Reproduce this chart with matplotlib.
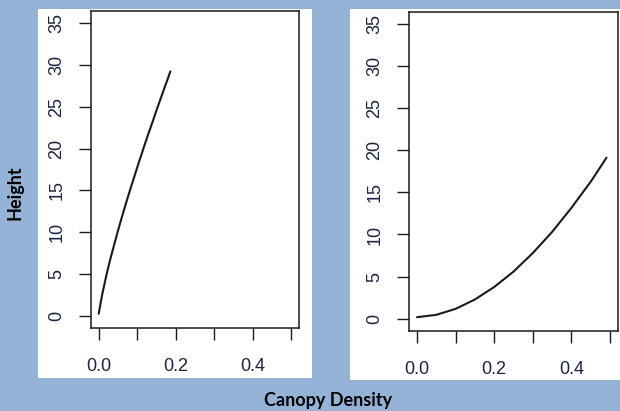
import matplotlib
matplotlib.use("Agg")
import matplotlib.pyplot as plt
from matplotlib.patches import Rectangle

plt.rcParams["font.family"] = ["Liberation Sans", "DejaVu Sans"]

# ---- data ----
left_x = [0.0, 0.005, 0.01, 0.02, 0.03, 0.04, 0.05, 0.06, 0.07, 0.08, 0.09,
          0.10, 0.11, 0.12, 0.13, 0.14, 0.15, 0.16, 0.17, 0.18, 0.186]
left_y = [0.3, 1.6, 2.8, 4.9, 6.8, 8.5, 10.2, 11.8, 13.35, 14.85, 16.3,
          17.75, 19.15, 20.55, 21.9, 23.2, 24.55, 25.85, 27.15, 28.4, 29.2]

right_x = [0.0, 0.05, 0.10, 0.15, 0.20, 0.25, 0.30, 0.35, 0.40, 0.45, 0.491]
right_y = [0.2, 0.48, 1.19, 2.3, 3.78, 5.6, 7.8, 10.3, 13.15, 16.25, 19.1]

x_ticks = [0.0, 0.1, 0.2, 0.3, 0.4, 0.5]
x_labels = ["0.0", "", "0.2", "", "0.4", ""]
y_ticks = [0, 5, 10, 15, 20, 25, 30, 35]

BG = "#95b3d7"
INK = "#1a1a1a"
LAB = "#1c2440"

fig = plt.figure(figsize=(6.2, 4.11), dpi=100)
fig.patch.set_facecolor(BG)

# white panels behind each R plot
W, H = 620.0, 411.0
for (x0, y0, x1, y1) in [(38, 9, 312, 378), (350, 9, 620, 380)]:
    fig.patches.append(Rectangle((x0 / W, 1 - y1 / H), (x1 - x0) / W, (y1 - y0) / H,
                                 transform=fig.transFigure, facecolor="white",
                                 edgecolor="none", zorder=-5))

axL = fig.add_axes([91 / W, 1 - 328 / H, 208 / W, 317 / H])
axR = fig.add_axes([409.3 / W, 1 - 330.7 / H, 208.4 / W, 319 / H])

for ax, xs, ys in [(axL, left_x, left_y), (axR, right_x, right_y)]:
    ax.set_zorder(2)
    ax.set_facecolor("white")
    ax.plot(xs, ys, color=INK, lw=1.5, solid_capstyle="round")
    ax.set_xlim(-0.02, 0.52)
    ax.set_ylim(-1.4, 36.4)
    ax.set_xticks(x_ticks)
    ax.set_xticklabels(x_labels)
    ax.set_yticks(y_ticks)
    ax.set_yticklabels([str(v) for v in y_ticks], rotation=90, va="center")
    ax.tick_params(length=8.5, width=1.0, color=INK, pad=10,
                   labelsize=13, labelcolor=LAB)
    ax.tick_params(axis="x", pad=13)
    for sp in ax.spines.values():
        sp.set_linewidth(1.1)
        sp.set_color(INK)

fig.text(15 / W, 1 - 193 / H, "Height", rotation=90, ha="center", va="center",
         fontsize=13, fontweight="bold", family="Lato", color="black")
fig.text(328 / W, 1 - 400 / H, "Canopy Density", ha="center", va="center",
         fontsize=13, fontweight="bold", family="Lato", color="black")

fig.savefig("out.png", dpi=100, facecolor=BG)
